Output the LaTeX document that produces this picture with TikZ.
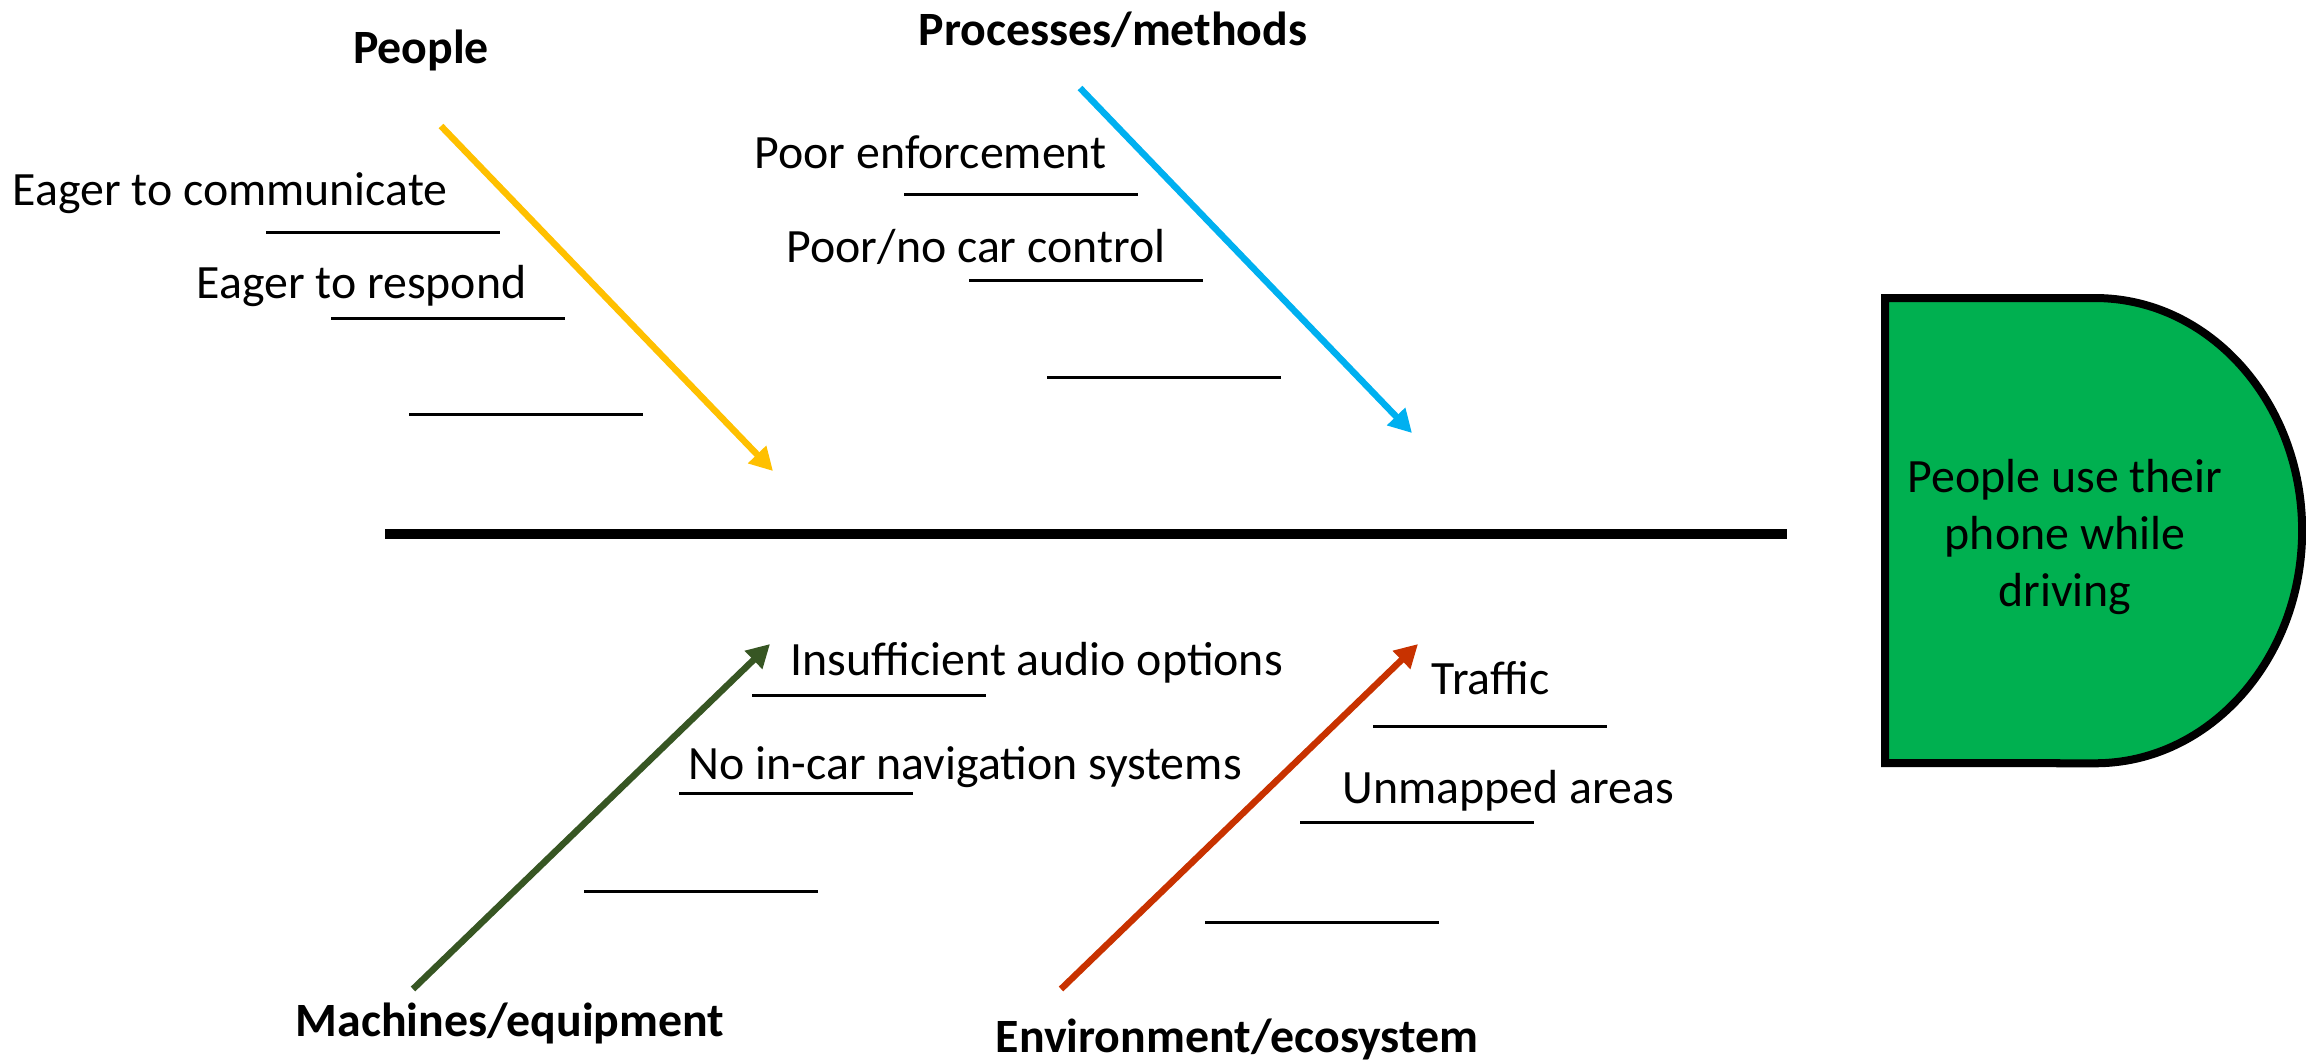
\documentclass[tikz,border=0pt]{standalone}
\usepackage{fontspec}
\setmainfont{Carlito}
\usetikzlibrary{arrows.meta}

\definecolor{peopleyellow}{HTML}{FFC000}
\definecolor{processblue}{HTML}{00B0F0}
\definecolor{machinegreen}{HTML}{375623}
\definecolor{ecored}{HTML}{C83200}
\definecolor{effectgreen}{HTML}{00B050}

\begin{document}
\begin{tikzpicture}[x = 0.01cm, y = -0.01cm, font = \fontsize{13.6}{16.2}\selectfont,
	cause/.style = {anchor = base west, inner sep = 0pt},
	category/.style = {anchor = base, inner sep = 0pt, font = \fontsize{13.6}{16.2}\selectfont\bfseries},
	bone/.style = {line width = 0.065cm, -{Triangle[length = 0.23cm, width = 0.24cm]}},
	slot/.style = {line width = 0.03cm}]
	\useasboundingbox (0, 0) rectangle (2306, 1062);

	% head
	\draw[line width = 0.08cm, fill = effectgreen] (1885, 298) -- (2095, 298) arc[start angle = 90, end angle = -90, x radius = 2.07cm, y radius = 2.325cm] -- (1885, 763) -- cycle;
	\node[align = center, inner sep = 0pt] (effect) at (2065, 537) {People use their\\phone while\\driving};

	% spine
	\coordinate (spineTail) at (385, 534);
	\coordinate (spineHead) at (1787, 534);
	\draw[line width = 0.1cm] (spineTail) -- (spineHead);

	% bones
	\coordinate (peopleTail) at (441, 126);
	\coordinate (peopleHead) at (773, 471);
	\coordinate (processTail) at (1080, 88);
	\coordinate (processHead) at (1412, 433);
	\coordinate (machineTail) at (413, 989);
	\coordinate (machineHead) at (770, 644);
	\coordinate (ecoTail) at (1061, 989);
	\coordinate (ecoHead) at (1418, 644);
	\draw[bone, peopleyellow] (peopleTail) -- (peopleHead);
	\draw[bone, processblue] (processTail) -- (processHead);
	\draw[bone, machinegreen] (machineTail) -- (machineHead);
	\draw[bone, ecored] (ecoTail) -- (ecoHead);

	\node[category] (people) at (421, 63) {People};
	\node[category] (process) at (1113, 45) {Processes/methods};
	\node[category] (machine) at (510, 1036) {Machines/equipment};
	\node[category] (eco) at (1237, 1052) {Environment/ecosystem};

	% causes
	\node[cause] (communicate) at (12, 205) {Eager to communicate};
	\node[cause] (respond) at (196, 298) {Eager to respond};
	\node[cause] (enforcement) at (754, 168) {Poor enforcement};
	\node[cause] (carcontrol) at (786, 262) {Poor/no car control};
	\node[cause] (audio) at (790, 675) {Insufficient audio options};
	\node[cause] (navigation) at (688, 779) {No in-car navigation systems};
	\node[cause] (traffic) at (1431, 694) {Traffic};
	\node[cause] (unmapped) at (1342, 803) {Unmapped areas};

	\draw[slot] (266, 232) -- (500, 232);
	\draw[slot] (331, 318) -- (565, 318);
	\draw[slot] (409, 414) -- (643, 414);
	\draw[slot] (904, 194) -- (1138, 194);
	\draw[slot] (969, 280) -- (1203, 280);
	\draw[slot] (1047, 377) -- (1281, 377);
	\draw[slot] (752, 695) -- (986, 695);
	\draw[slot] (679, 793) -- (913, 793);
	\draw[slot] (584, 891) -- (818, 891);
	\draw[slot] (1373, 726) -- (1607, 726);
	\draw[slot] (1300, 822) -- (1534, 822);
	\draw[slot] (1205, 922) -- (1439, 922);
\end{tikzpicture}
\end{document}
